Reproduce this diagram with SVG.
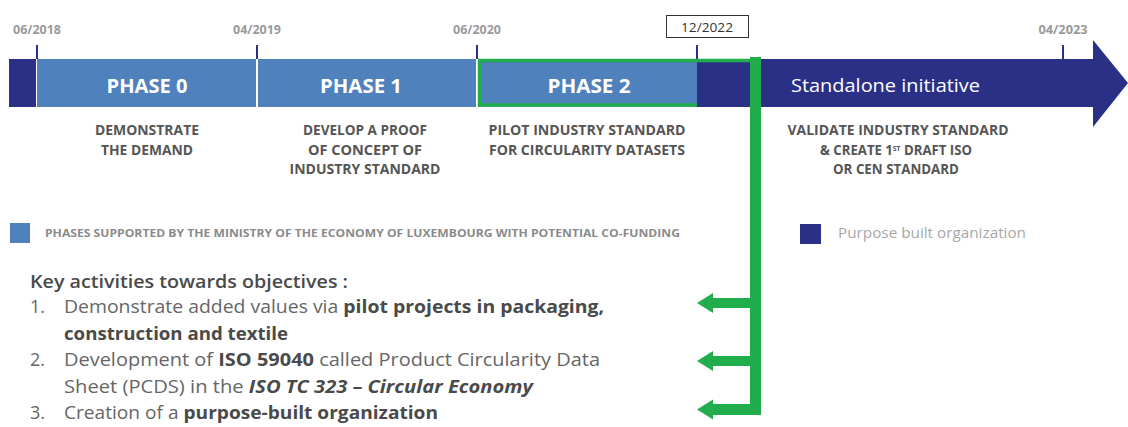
<svg xmlns="http://www.w3.org/2000/svg" width="1128" height="427" viewBox="0 0 1128 427">
<style>
.date{font-family:"Open Sans","Liberation Sans",sans-serif;font-weight:700;font-size:12px;fill:#9a9a9a;text-anchor:middle}
.phase{font-family:"Open Sans","Liberation Sans",sans-serif;font-weight:700;font-size:20px;fill:#ffffff;text-anchor:middle}
.desc{font-family:"Open Sans","Liberation Sans",sans-serif;font-weight:700;font-size:13.5px;fill:#555555;text-anchor:middle}
.legend{font-family:"Open Sans","Liberation Sans",sans-serif;font-weight:700;font-size:10.5px;fill:#8a8a8a}
.body{font-family:"Open Sans","Liberation Sans",sans-serif;font-size:18px;fill:#666666}
.b{font-weight:700;fill:#4a4a4a}
.lb{fill:#4f81bd}
.nv{fill:#2b3087}
.tick{stroke:#2b3087;stroke-width:2}
.g{fill:#22ad4c}
</style>
<rect width="1128" height="427" fill="#ffffff"/>

<g id="dates">
<text class="date" x="37" y="34" textLength="48" lengthAdjust="spacingAndGlyphs">06/2018</text>
<text class="date" x="257" y="34" textLength="48" lengthAdjust="spacingAndGlyphs">04/2019</text>
<text class="date" x="477" y="34" textLength="48" lengthAdjust="spacingAndGlyphs">06/2020</text>
<text class="date" x="1063" y="34" textLength="49" lengthAdjust="spacingAndGlyphs">04/2023</text>
</g>

<g id="date-box">
<rect x="666.5" y="15.5" width="82" height="22" fill="#ffffff" stroke="#333333" stroke-width="1"/>
<text x="707" y="32" font-family="Open Sans, Liberation Sans, sans-serif" font-size="13" fill="#333333" text-anchor="middle" textLength="52" lengthAdjust="spacingAndGlyphs">12/2022</text>
</g>

<g id="ticks">
<line class="tick" x1="37" y1="45" x2="37" y2="59"/>
<line class="tick" x1="257" y1="45" x2="257" y2="59"/>
<line class="tick" x1="477" y1="45" x2="477" y2="59"/>
<line class="tick" x1="697" y1="45" x2="697" y2="59"/>
</g>

<g id="start-segment">
<rect class="nv" x="9" y="59" width="27" height="48"/>
</g>

<g id="phase-0">
<rect class="lb" x="37" y="59" width="219" height="48"/>
<text class="phase" x="147" y="93" textLength="81" lengthAdjust="spacingAndGlyphs">PHASE 0</text>
<text class="desc" x="147" y="135" textLength="104" lengthAdjust="spacingAndGlyphs">DEMONSTRATE</text>
<text class="desc" x="147" y="155" textLength="92" lengthAdjust="spacingAndGlyphs">THE DEMAND</text>
</g>

<g id="phase-1">
<rect class="lb" x="258" y="59" width="218" height="48"/>
<text class="phase" x="361" y="93" textLength="82" lengthAdjust="spacingAndGlyphs">PHASE 1</text>
<text class="desc" x="365" y="135" textLength="124" lengthAdjust="spacingAndGlyphs">DEVELOP A PROOF</text>
<text class="desc" x="365" y="155" textLength="114" lengthAdjust="spacingAndGlyphs">OF CONCEPT OF</text>
<text class="desc" x="365" y="174" textLength="151" lengthAdjust="spacingAndGlyphs">INDUSTRY STANDARD</text>
</g>

<g id="phase-2">
<rect class="lb" x="478" y="59" width="219" height="48"/>
<text class="phase" x="589" y="93" textLength="83" lengthAdjust="spacingAndGlyphs">PHASE 2</text>
<text class="desc" x="587" y="135" textLength="197" lengthAdjust="spacingAndGlyphs">PILOT INDUSTRY STANDARD</text>
<text class="desc" x="587" y="155" textLength="196" lengthAdjust="spacingAndGlyphs">FOR CIRCULARITY DATASETS</text>
</g>

<g id="standalone">
<polygon class="nv" points="697,59 1093,59 1093,40 1128,83 1093,127 1093,107 697,107"/>
<line x1="1063" y1="45" x2="1063" y2="60" stroke="#2b3087" stroke-width="2"/>
<text x="791" y="92" font-family="Open Sans, Liberation Sans, sans-serif" font-size="18" fill="#ffffff" textLength="189" lengthAdjust="spacingAndGlyphs">Standalone initiative</text>
<text class="desc" x="898" y="135" textLength="221" lengthAdjust="spacingAndGlyphs">VALIDATE INDUSTRY STANDARD</text>
<text class="desc" x="896" y="155" textLength="152" lengthAdjust="spacingAndGlyphs">&amp; CREATE 1<tspan font-size="7" dy="-4">ST</tspan><tspan dy="4"> DRAFT ISO</tspan></text>
<text class="desc" x="896" y="174" textLength="126" lengthAdjust="spacingAndGlyphs">OR CEN STANDARD</text>
</g>

<g id="legend-phases">
<rect class="lb" x="10" y="223" width="20" height="20"/>
<text class="legend" x="45" y="237" textLength="635" lengthAdjust="spacingAndGlyphs">PHASES SUPPORTED BY THE MINISTRY OF THE ECONOMY OF LUXEMBOURG WITH POTENTIAL CO-FUNDING</text>
</g>

<g id="legend-purpose">
<rect class="nv" x="800" y="224" width="21" height="20"/>
<text x="838" y="238" font-family="Open Sans, Liberation Sans, sans-serif" font-size="15" fill="#a8a8a8" textLength="188" lengthAdjust="spacingAndGlyphs">Purpose built organization</text>
</g>

<g id="key-activities">
<text class="body" x="30" y="288" textLength="318" lengthAdjust="spacingAndGlyphs"><tspan class="b" style="font-weight:600">Key activities towards objectives :</tspan></text>
<text class="body" x="30" y="313">1.</text>
<text class="body" x="64" y="313" textLength="540" lengthAdjust="spacingAndGlyphs">Demonstrate added values via <tspan class="b">pilot projects in packaging,</tspan></text>
<text class="body" x="64" y="340" textLength="224" lengthAdjust="spacingAndGlyphs"><tspan class="b">construction and textile</tspan></text>
<text class="body" x="30" y="366">2.</text>
<text class="body" x="64" y="366" textLength="536" lengthAdjust="spacingAndGlyphs">Development of <tspan class="b">ISO 59040</tspan> called Product Circularity Data</text>
<text class="body" x="64" y="393" textLength="469" lengthAdjust="spacingAndGlyphs">Sheet (PCDS) in the <tspan class="b" font-style="italic">ISO TC 323 – Circular Economy</tspan></text>
<text class="body" x="30" y="419">3.</text>
<text class="body" x="64" y="419" textLength="374" lengthAdjust="spacingAndGlyphs">Creation of a <tspan class="b">purpose-built organization</tspan></text>
</g>

<g id="connectors">
<path d="M756,60.5 H479.5 V105 H697" fill="none" stroke="#22ad4c" stroke-width="3.5"/>
<rect class="g" x="750" y="57" width="11" height="358"/>
<rect class="g" x="712" y="298" width="40" height="10"/>
<polygon class="g" points="697,303 713,293 713,313"/>
<rect class="g" x="712" y="356" width="40" height="10"/>
<polygon class="g" points="697,361 713,351 713,371"/>
<rect class="g" x="712" y="404" width="40" height="11"/>
<polygon class="g" points="697,409.5 713,399.5 713,419.5"/>
</g>
</svg>
